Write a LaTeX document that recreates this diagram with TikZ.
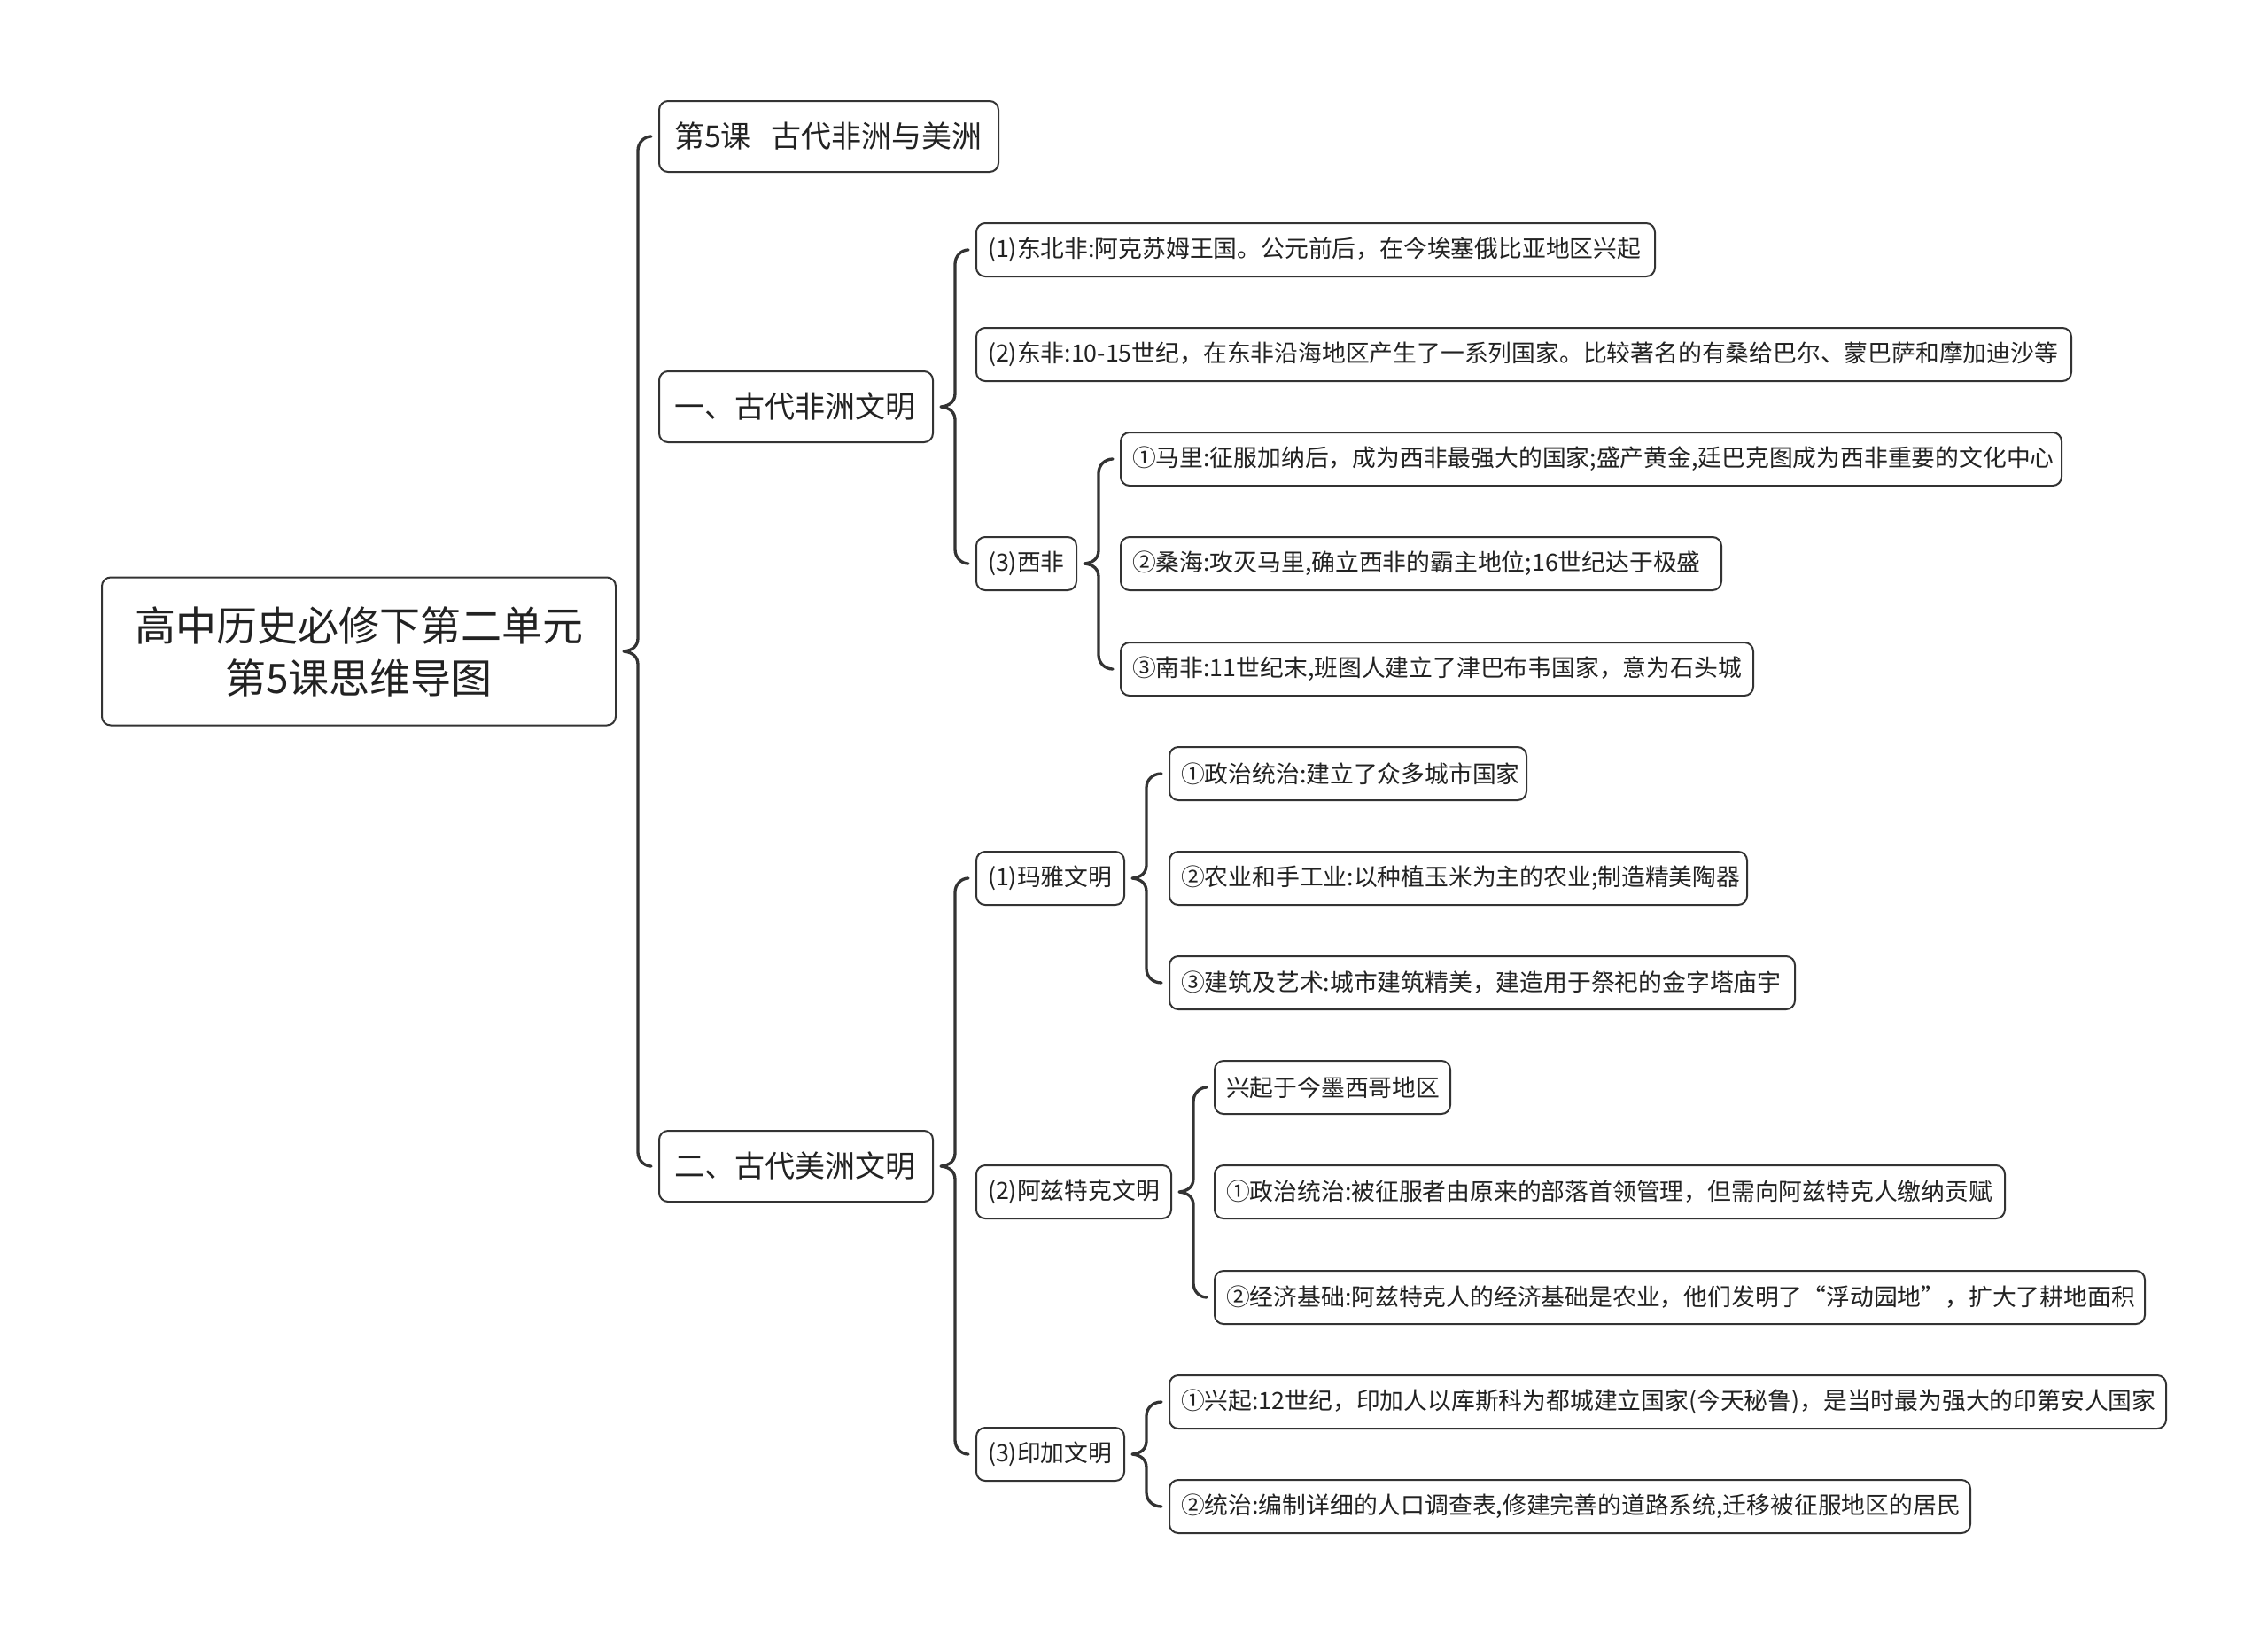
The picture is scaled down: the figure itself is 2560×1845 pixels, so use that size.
\documentclass[tikz,border=0pt]{standalone}
\usepackage{fontspec}
\setmainfont{Noto Sans CJK SC}
\usetikzlibrary{calc}
\definecolor{linec}{HTML}{333333}
\definecolor{textc}{HTML}{222222}
\tikzset{
  box/.style={draw=linec, line width=2pt, rounded corners=10pt, fill=white, text=textc,
    anchor=west, inner xsep=13pt, inner ysep=0pt, align=left,
    font=\fontsize{26.8}{32}\selectfont, minimum height=60pt},
  lvone/.style={box, inner xsep=17pt, font=\fontsize{34}{40}\selectfont, minimum height=80pt},
  rootbox/.style={box, font=\fontsize{46}{59}\selectfont, minimum height=167pt, align=center},
  brl/.style={draw=linec, line width=3.3pt, line cap=round, line join=round},
}
\newcommand{\mmbrace}[3]{%
  \draw[brl] let \p1=(#1.east), \p2=(#2.west), \p3=(#3.west), \p4=([xshift=24pt]#1.east) in
    ([xshift=-8pt]#2.west) .. controls (\x4+7pt,\y2) and (\x4,\y2-7pt) .. (\x4,\y2-16pt)
    -- (\x4,\y1+15pt) .. controls (\x4,\y1+6pt) and (\x4-6pt,\y1+1pt) .. (\x1+8pt,\y1)
    .. controls (\x4-6pt,\y1-1pt) and (\x4,\y1-6pt) .. (\x4,\y1-15pt)
    -- (\x4,\y3+16pt) .. controls (\x4,\y3+7pt) and (\x4+7pt,\y3) .. ([xshift=-8pt]#3.west);}
\begin{document}
\begin{tikzpicture}[x=1pt, y=-1pt]
\useasboundingbox (0,0) rectangle (2560,1845);
\fill[white] (0,0) rectangle (2560,1845);

% root
\node[rootbox, minimum width=580pt] (root) at (114,735) {高中历史必修下第二单元\\第5课思维导图};

% level 1
\node[lvone, text width=349pt] (A) at (743,154) {\mbox{第5课\ \ 古代非洲与美洲}};
\node[lvone, text width=275pt] (B) at (743,459) {一、古代非洲文明};
\node[lvone, text width=275pt] (C) at (743,1316) {二、古代美洲文明};

% Africa
\node[box, text width=740pt] (B1) at (1101,282) {(1)东北非:阿克苏姆王国。公元前后，在今埃塞俄比亚地区兴起};
\node[box, text width=1210pt] (B2) at (1101,400) {(2)东非:10-15世纪，在东非沿海地区产生了一系列国家。比较著名的有桑给巴尔、蒙巴萨和摩加迪沙等};
\node[box, text width=87pt] (B3) at (1101,636) {(3)西非};
\node[box, text width=1036pt] (B31) at (1264,518) {①马里:征服加纳后，成为西非最强大的国家;盛产黄金,廷巴克图成为西非重要的文化中心};
\node[box, text width=652pt] (B32) at (1264,636) {②桑海:攻灭马里,确立西非的霸主地位;16世纪达于极盛};
\node[box, text width=688pt] (B33) at (1264,755) {③南非:11世纪末,班图人建立了津巴布韦国家，意为石头城};

% America
\node[box, text width=141pt] (C1) at (1101,991) {(1)玛雅文明};
\node[box, text width=377pt] (C11) at (1319,873) {①政治统治:建立了众多城市国家};
\node[box, text width=626pt] (C12) at (1319,991) {②农业和手工业:以种植玉米为主的农业;制造精美陶器};
\node[box, text width=680pt] (C13) at (1319,1109) {③建筑及艺术:城市建筑精美，建造用于祭祀的金字塔庙宇};

\node[box, text width=194pt] (C2) at (1101,1345) {(2)阿兹特克文明};
\node[box, text width=240pt] (C21) at (1370,1227) {兴起于今墨西哥地区};
\node[box, text width=866pt] (C22) at (1370,1345) {①政治统治:被征服者由原来的部落首领管理，但需向阿兹特克人缴纳贡赋};
\node[box, text width=1024pt] (C23) at (1370,1464) {②经济基础:阿兹特克人的经济基础是农业，他们发明了“浮动园地”，扩大了耕地面积};

\node[box, text width=141pt] (C3) at (1101,1641) {(3)印加文明};
\node[box, text width=1099pt] (C31) at (1319,1582) {①兴起:12世纪，印加人以库斯科为都城建立国家(今天秘鲁)，是当时最为强大的印第安人国家};
\node[box, text width=878pt] (C32) at (1319,1700) {②统治:编制详细的人口调查表,修建完善的道路系统,迁移被征服地区的居民};

% braces
\mmbrace{root}{A}{C}
\mmbrace{B}{B1}{B3}
\mmbrace{B3}{B31}{B33}
\mmbrace{C}{C1}{C3}
\mmbrace{C1}{C11}{C13}
\mmbrace{C2}{C21}{C23}
\mmbrace{C3}{C31}{C32}
\end{tikzpicture}
\end{document}
